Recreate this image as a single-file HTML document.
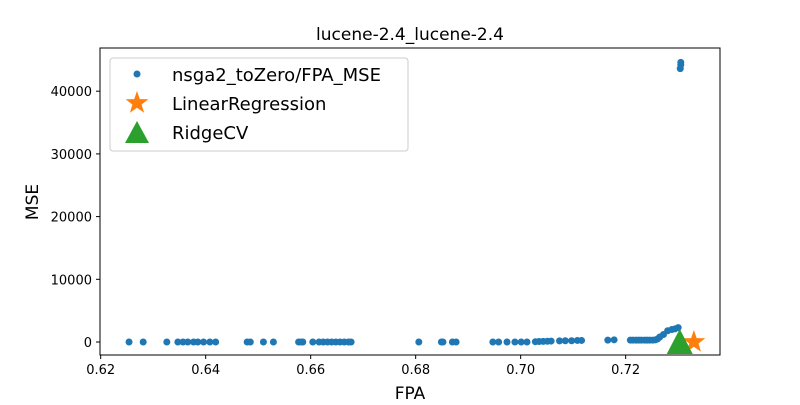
<!DOCTYPE html>
<html><head><meta charset="utf-8"><style>
body{margin:0;background:#fff}
svg text{font-family:"DejaVu Sans","Liberation Sans",sans-serif}
</style></head><body>
<svg id="c" width="800" height="400" xmlns="http://www.w3.org/2000/svg">
<rect width="800" height="400" fill="#fff"/>
<text x="410" y="40" text-anchor="middle" font-size="17">lucene-2.4_lucene-2.4</text>
<g id="marks"></g>
<rect x="100" y="48" width="620" height="307" fill="none" stroke="#000" stroke-width="1"/>
<g id="axes"></g>
<text x="410" y="399" text-anchor="middle" font-size="17">FPA</text>
<text transform="translate(38,202) rotate(-90)" text-anchor="middle" font-size="17">MSE</text>
<g>
<rect x="110" y="58" width="298" height="93" rx="3" fill="#fff" fill-opacity="0.8" stroke="#ccc"/>
<circle cx="137" cy="74" r="3.5" fill="#1f77b4"/>
<text x="172" y="81" font-size="18">nsga2_toZero/FPA_MSE</text>
<polygon id="legstar" fill="#ff7f0e"/>
<text x="172" y="110" font-size="18">LinearRegression</text>
<polygon points="137,121 149,143 125,143" fill="#2ca02c"/>
<text x="172" y="139" font-size="18">RidgeCV</text>
</g>
</svg>
<script>
const fpa=[0.6254,0.6281,0.6326,0.6347,0.6357,0.6366,0.6377,0.6385,0.6396,0.6408,0.6419,0.6479,0.6485,0.6510,0.6529,0.6577,0.6582,0.6585,0.6604,0.6616,0.6624,0.6632,0.6640,0.6648,0.6656,0.6664,0.6672,0.6677,0.6806,0.6849,0.6852,0.6870,0.6877,0.6947,0.6958,0.6974,0.6989,0.7001,0.7012,0.7028,0.7035,0.7043,0.7051,0.7058,0.7074,0.7085,0.7097,0.7108,0.7116,0.7166,0.7178,0.7209,0.7214,0.7220,0.7225,0.7230,0.7236,0.7241,0.7246,0.7252,0.7257,0.7261,0.7265,0.7272,0.7280,0.7288,0.7294,0.7300,0.7304,0.7305,0.7305];
const mse=[0,0,0,0,0,0,0,0,0,0,0,0,0,0,0,0,0,0,0,0,0,0,0,0,0,0,0,0,0,0,0,0,0,0,0,0,0,0,0,50,80,100,120,150,180,200,200,250,250,300,350,300,300,300,300,300,300,300,300,300,350,500,800,1200,1800,2000,2100,2300,43600,44200,44600];
const linFPA=[0.7330], linMSE=[0];
const ridgeFPA=[0.7303], ridgeMSE=[0];
const xTicks=[0.62,0.64,0.66,0.68,0.70,0.72];
const yTicks=[0,10000,20000,30000,40000];
const xMin=0.61987,xMax=0.73797,yMin=-2070,yMax=46890;
const X=v=>100+(v-xMin)/(xMax-xMin)*620;
const Y=v=>355-(v-yMin)/(yMax-yMin)*307;
const NS="http://www.w3.org/2000/svg";
const mk=(t,a,p)=>{const e=document.createElementNS(NS,t);for(const k in a)e.setAttribute(k,a[k]);p.appendChild(e);return e;};
const marks=document.getElementById('marks'),axes=document.getElementById('axes');
function star(cx,cy,R){let p=[];for(let i=0;i<10;i++){const r=i%2?R*0.4:R,a=-Math.PI/2+i*Math.PI/5;p.push((cx+r*Math.cos(a)).toFixed(1)+','+(cy+r*Math.sin(a)).toFixed(1));}return p.join(' ');}
document.getElementById('legstar').setAttribute('points',star(137,103,12));
fpa.forEach((v,i)=>{const c=mk('circle',{cx:X(v),cy:Y(mse[i]),r:3.5,fill:'#1f77b4'},marks);

});
linFPA.forEach((v,i)=>{const s=mk('polygon',{points:star(X(v),Y(linMSE[i]),12),fill:'#ff7f0e'},marks);

});
ridgeFPA.forEach((v,i)=>{const cx=X(v),cy=Y(ridgeMSE[i]);const t=mk('polygon',{points:`${cx},${cy-13} ${cx+13},${cy+12} ${cx-13},${cy+12}`,fill:'#2ca02c'},marks);

});
xTicks.forEach(v=>{const x=X(v);mk('line',{x1:x,x2:x,y1:355,y2:359,stroke:'#000'},axes);
const t=mk('text',{x:x,y:374,'text-anchor':'middle','font-size':13},axes);t.textContent=v.toFixed(2);

});
yTicks.forEach(v=>{const y=Y(v);mk('line',{x1:96,x2:100,y1:y,y2:y,stroke:'#000'},axes);
const t=mk('text',{x:92,y:y+5,'text-anchor':'end','font-size':13},axes);t.textContent=v;

});
</script>
</body></html>
